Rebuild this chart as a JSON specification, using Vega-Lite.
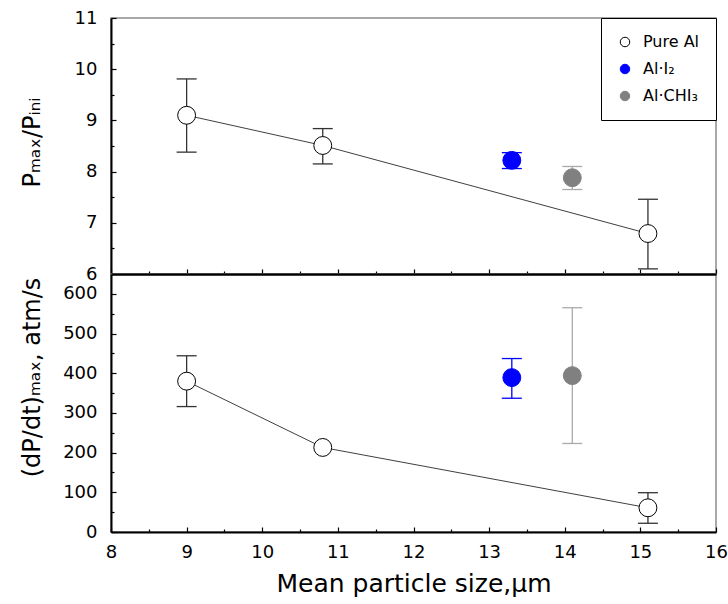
{
  "$schema": "https://vega.github.io/schema/vega-lite/v6.json",
  "padding": {"left": 19, "top": 8, "right": 1, "bottom": 4},
  "background": "white",
  "bounds": "flush",
  "config": {
    "font": "DejaVu Sans",
    "view": {"stroke": "#8c8c8c", "strokeWidth": 1.5},
    "axis": {
      "grid": false,
      "domainColor": "black",
      "domainWidth": 2,
      "tickColor": "black",
      "tickWidth": 1.2,
      "labelFont": "DejaVu Sans",
      "labelFontSize": 18,
      "labelColor": "black",
      "titleColor": "black",
      "titleFont": "DejaVu Sans",
      "titleFontWeight": "normal",
      "labelFlush": false,
      "labelOverlap": false
    }
  },
  "datasets": {
    "top": [
      {"series": "Pure Al", "x": 9.0, "y": 9.10, "lo": 8.38, "hi": 9.81},
      {"series": "Pure Al", "x": 10.8, "y": 8.51, "lo": 8.15, "hi": 8.84},
      {"series": "Pure Al", "x": 15.1, "y": 6.79, "lo": 6.10, "hi": 7.46},
      {"series": "Al·I₂", "x": 13.3, "y": 8.22, "lo": 8.06, "hi": 8.37},
      {"series": "Al·CHI₃", "x": 14.1, "y": 7.88, "lo": 7.65, "hi": 8.10}
    ],
    "bottom": [
      {"series": "Pure Al", "x": 9.0, "y": 380, "lo": 316, "hi": 444},
      {"series": "Pure Al", "x": 10.8, "y": 213, "lo": null, "hi": null},
      {"series": "Pure Al", "x": 15.1, "y": 61, "lo": 22, "hi": 99},
      {"series": "Al·I₂", "x": 13.3, "y": 389, "lo": 337, "hi": 437},
      {"series": "Al·CHI₃", "x": 14.1, "y": 394, "lo": 223, "hi": 565}
    ]
  },
  "spacing": 0,
  "resolve": {"scale": {"fill": "independent", "stroke": "independent"}},
  "vconcat": [
    {
      "width": 605,
      "height": 256,
      "data": {"name": "top"},
      "resolve": {"axis": {"x": "independent", "y": "independent"}},
      "layer": [
        {
          "transform": [{"filter": "datum.series === 'Pure Al'"}],
          "mark": {"type": "line", "color": "#404040", "strokeWidth": 1},
          "encoding": {
            "x": {
              "field": "x", "type": "quantitative",
              "scale": {"domain": [8, 16], "nice": false, "zero": false},
              "axis": {
                "orient": "bottom",
                "values": [8, 8.5, 9, 9.5, 10, 10.5, 11, 11.5, 12, 12.5, 13, 13.5, 14, 14.5, 15, 15.5, 16],
                "labels": false,
                "tickSize": {"condition": {"test": "datum.value % 1 !== 0", "value": -3}, "value": -5},
                "title": null
              }
            },
            "y": {
              "field": "y", "type": "quantitative",
              "scale": {"domain": [6, 11], "nice": false, "zero": false},
              "axis": {
                "orient": "left",
                "values": [6, 6.5, 7, 7.5, 8, 8.5, 9, 9.5, 10, 10.5, 11],
                "labelExpr": "datum.value % 1 === 0 ? format(datum.value, 'd') : ''",
                "tickSize": {"condition": {"test": "datum.value % 1 !== 0", "value": -3}, "value": -5},
                "labelPadding": 19,
                "title": "Pₘₐₓ/Pᵢₙᵢ",
                "titleFontSize": 24,
                "titleX": -72,
                "titleY": 124,
                "titleBaseline": "alphabetic"
              }
            }
          }
        },
        {
          "mark": {"type": "rule", "strokeWidth": 1.3},
          "encoding": {
            "x": {"field": "x", "type": "quantitative", "axis": null},
            "y": {"field": "lo", "type": "quantitative", "axis": null},
            "y2": {"field": "hi"},
            "color": {"field": "series", "type": "nominal", "scale": {"domain": ["Pure Al", "Al·I₂", "Al·CHI₃"], "range": ["#333333", "#0000ff", "#aaaaaa"]}, "legend": null}
          }
        },
        {
          "mark": {"type": "tick", "orient": "horizontal", "size": 20, "thickness": 1.3, "opacity": 1},
          "encoding": {
            "x": {"field": "x", "type": "quantitative", "axis": null},
            "y": {"field": "lo", "type": "quantitative", "axis": null},
            "color": {"field": "series", "type": "nominal", "legend": null}
          }
        },
        {
          "mark": {"type": "tick", "orient": "horizontal", "size": 20, "thickness": 1.3, "opacity": 1},
          "encoding": {
            "x": {"field": "x", "type": "quantitative", "axis": null},
            "y": {"field": "hi", "type": "quantitative", "axis": null},
            "color": {"field": "series", "type": "nominal", "legend": null}
          }
        },
        {
          "mark": {"type": "circle", "size": 320, "strokeWidth": 1, "opacity": 1},
          "encoding": {
            "x": {"field": "x", "type": "quantitative", "axis": null},
            "y": {"field": "y", "type": "quantitative", "axis": null},
            "fill": {
              "field": "series", "type": "nominal",
              "scale": {"domain": ["Pure Al", "Al·I₂", "Al·CHI₃"], "range": ["white", "#0000ff", "#808080"]},
              "legend": {"orient": "top-right", "offset": 0, "title": null, "strokeColor": "black", "fillColor": "white", "padding": 16, "rowPadding": 11, "labelFontSize": 16, "labelOffset": 10, "symbolSize": 90, "symbolStrokeWidth": 1, "labelFont": "DejaVu Sans", "labelColor": "black"}
            },
            "stroke": {
              "field": "series", "type": "nominal",
              "scale": {"domain": ["Pure Al", "Al·I₂", "Al·CHI₃"], "range": ["black", "#0000ff", "#808080"]},
              "legend": {"orient": "top-right", "offset": 0, "title": null, "strokeColor": "black", "fillColor": "white", "padding": 16, "rowPadding": 11, "labelFontSize": 16, "labelOffset": 10, "symbolSize": 90, "symbolStrokeWidth": 1, "labelFont": "DejaVu Sans", "labelColor": "black"}
            }
          }
        }
      ]
    },
    {
      "width": 605,
      "height": 258,
      "data": {"name": "bottom"},
      "resolve": {"axis": {"x": "independent", "y": "independent"}},
      "layer": [
        {
          "transform": [{"filter": "datum.series === 'Pure Al'"}],
          "mark": {"type": "line", "color": "#404040", "strokeWidth": 1},
          "encoding": {
            "x": {
              "field": "x", "type": "quantitative",
              "scale": {"domain": [8, 16], "nice": false, "zero": false},
              "axis": {
                "orient": "bottom",
                "values": [8, 8.5, 9, 9.5, 10, 10.5, 11, 11.5, 12, 12.5, 13, 13.5, 14, 14.5, 15, 15.5, 16],
                "labelExpr": "datum.value % 1 === 0 ? format(datum.value, 'd') : ''",
                "tickSize": {"condition": {"test": "datum.value % 1 !== 0", "value": -3}, "value": -5},
                "labelPadding": 16,
                "title": "Mean particle size,μm",
                "titleFontSize": 25,
                "titleY": 59,
                "titleBaseline": "alphabetic"
              }
            },
            "y": {
              "field": "y", "type": "quantitative",
              "scale": {"domain": [0, 650], "nice": false, "zero": false},
              "axis": {
                "orient": "left",
                "values": [0, 50, 100, 150, 200, 250, 300, 350, 400, 450, 500, 550, 600],
                "labelExpr": "datum.value % 100 === 0 ? format(datum.value, 'd') : ''",
                "tickSize": {"condition": {"test": "datum.value % 100 !== 0", "value": -3}, "value": -5},
                "labelPadding": 19,
                "title": "(dP/dt)ₘₐₓ, atm/s",
                "titleFontSize": 24,
                "titleX": -72,
                "titleY": 103,
                "titleBaseline": "alphabetic"
              }
            }
          }
        },
        {
          "mark": {"type": "rule", "strokeWidth": 1.3},
          "encoding": {
            "x": {"field": "x", "type": "quantitative", "axis": {"orient": "top", "labels": false, "ticks": false, "title": null, "domainColor": "black", "domainWidth": 2}},
            "y": {"field": "lo", "type": "quantitative", "axis": null},
            "y2": {"field": "hi"},
            "color": {"field": "series", "type": "nominal", "scale": {"domain": ["Pure Al", "Al·I₂", "Al·CHI₃"], "range": ["#333333", "#0000ff", "#aaaaaa"]}, "legend": null}
          }
        },
        {
          "mark": {"type": "tick", "orient": "horizontal", "size": 20, "thickness": 1.3, "opacity": 1},
          "encoding": {
            "x": {"field": "x", "type": "quantitative", "axis": null},
            "y": {"field": "lo", "type": "quantitative", "axis": null},
            "color": {"field": "series", "type": "nominal", "legend": null}
          }
        },
        {
          "mark": {"type": "tick", "orient": "horizontal", "size": 20, "thickness": 1.3, "opacity": 1},
          "encoding": {
            "x": {"field": "x", "type": "quantitative", "axis": null},
            "y": {"field": "hi", "type": "quantitative", "axis": null},
            "color": {"field": "series", "type": "nominal", "legend": null}
          }
        },
        {
          "mark": {"type": "circle", "size": 320, "strokeWidth": 1, "opacity": 1},
          "encoding": {
            "x": {"field": "x", "type": "quantitative", "axis": null},
            "y": {"field": "y", "type": "quantitative", "axis": null},
            "fill": {"field": "series", "type": "nominal", "scale": {"domain": ["Pure Al", "Al·I₂", "Al·CHI₃"], "range": ["white", "#0000ff", "#808080"]}, "legend": null},
            "stroke": {"field": "series", "type": "nominal", "scale": {"domain": ["Pure Al", "Al·I₂", "Al·CHI₃"], "range": ["black", "#0000ff", "#808080"]}, "legend": null}
          }
        }
      ]
    }
  ]
}
